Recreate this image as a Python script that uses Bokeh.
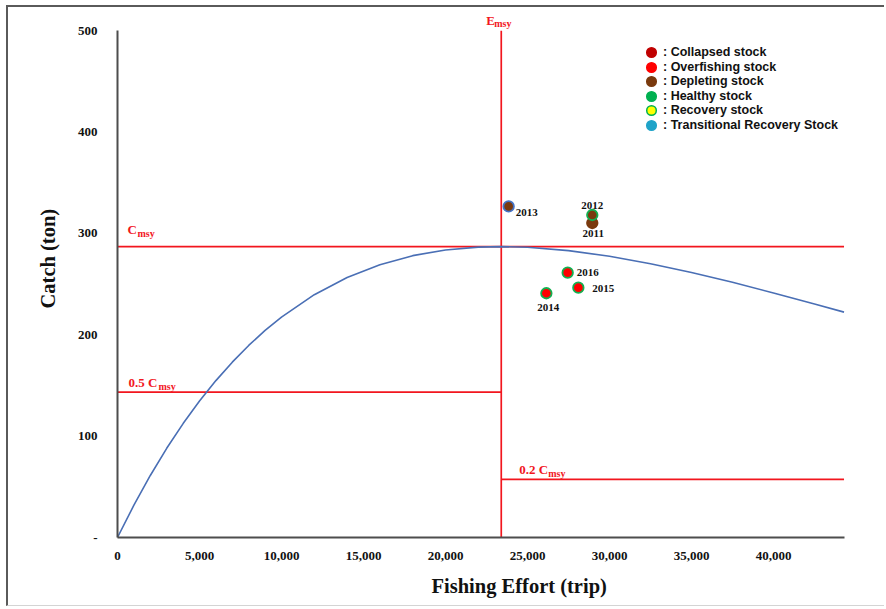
from bokeh.plotting import figure
from bokeh.models import (Range1d, Label, Legend, LegendItem, ColumnDataSource,
                          NumeralTickFormatter, FixedTicker, Title)
from bokeh.core.properties import value
from bokeh.embed import file_html
from bokeh.resources import INLINE

# ---------------- data ----------------
E_MSY = 23400      # trips
C_MSY = 287        # ton

# fitted production curve
curve_effort = [0, 1000, 2000, 3000, 4000, 5000, 6000, 7000, 8000, 9000, 10000,
                12000, 14000, 16000, 18000, 20000, 22000, 23400, 25000, 27500,
                30000, 32500, 35000, 37500, 40000, 42500, 44300]
curve_catch = [0, 31.9, 61.2, 88.0, 112.4, 134.6, 154.8, 173.0, 189.5, 204.3, 217.5,
               239.6, 256.6, 269.2, 278.1, 283.7, 286.5, 287.0, 286.4, 283.1,
               277.5, 270.2, 261.5, 251.8, 241.3, 230.4, 222.4]

years = ["2011", "2012", "2013", "2014", "2015", "2016"]
year_effort = [28950, 28950, 23850, 26150, 28100, 27450]
year_catch = [310.3, 318.2, 326.7, 241.0, 246.5, 261.3]
year_status = ["Depleting", "Depleting", "Depleting", "Overfishing", "Overfishing", "Overfishing"]

legend_labels = [": Collapsed stock", ": Overfishing stock", ": Depleting stock",
                 ": Healthy stock", ": Recovery stock", ": Transitional Recovery Stock"]

y_ticks = [0, 100, 200, 300, 400, 500]
x_ticks = [0, 5000, 10000, 15000, 20000, 25000, 30000, 35000, 40000]

# ---------------- styles ----------------
RED = "#F2161E"
BROWN = "#7A3A0E"
GREEN = "#12B050"
BLUE = "#4472C4"
legend_fill = ["#C00000", "#FF0000", BROWN, "#00B050", "#FFFF00", "#1FA3C8"]
legend_line = ["#C00000", "#FF0000", BROWN, "#00B050", "#00B050", "#1FA3C8"]
legend_row_y = [473, 458, 444, 429, 415, 400]   # screen px from frame bottom
status_fill = {"Depleting": BROWN, "Overfishing": "#FF0000"}
point_line = [BROWN, GREEN, BLUE, GREEN, GREEN, GREEN]
lab_xoff = [1, 0, 7, 2, 14, 9]
lab_yoff = [10, -10, 6, 14, 1, 0]
lab_align = ["center", "center", "left", "center", "left", "left"]

SERIF = "Liberation Serif"
SANS = "Liberation Sans"

p = figure(width=878, height=601, output_backend="svg", toolbar_location=None,
           x_range=Range1d(0, 45000), y_range=Range1d(0, 520),
           min_border_left=109, min_border_right=31, min_border_top=3,
           min_border_bottom=71)
p.styles = {"border-left": "2px solid #5a5a5a", "border-top": "2px solid #5a5a5a",
            "border-bottom": "1px solid #d4d4d4", "margin-left": "6px", "margin-top": "5px"}
p.outline_line_color = None
p.grid.visible = False
p.background_fill_color = "white"

# axes
for ax in (p.xaxis[0], p.yaxis[0]):
    ax.axis_line_color = "#4d4d4d"
    ax.axis_line_width = 2
    ax.major_tick_line_color = None
    ax.minor_tick_line_color = None
    ax.major_label_text_font = SERIF
    ax.major_label_text_font_style = "bold"
    ax.major_label_text_font_size = "13px"
    ax.major_label_text_color = "#111111"
p.xaxis.bounds = (0, 44300)
p.yaxis.bounds = (0, 500)
p.xaxis.ticker = FixedTicker(ticks=x_ticks)
p.yaxis.ticker = FixedTicker(ticks=y_ticks)
p.xaxis.formatter = NumeralTickFormatter(format="0,0")
p.yaxis.major_label_overrides = {0: "-"}
p.xaxis.major_label_standoff = 8
p.yaxis.major_label_standoff = 14

# reference lines
p.segment(x0=[0, 0, E_MSY, E_MSY], y0=[C_MSY, C_MSY * 0.5, C_MSY * 0.2, 0],
          x1=[curve_effort[-1], E_MSY, curve_effort[-1], E_MSY],
          y1=[C_MSY, C_MSY * 0.5, C_MSY * 0.2, 500],
          line_color=RED, line_width=1.7)

# curve
p.line(curve_effort, curve_catch, line_color="#4A6FB5", line_width=1.6)

# yearly points
src = ColumnDataSource(dict(x=year_effort, y=year_catch, year=years,
                            fill=[status_fill[s] for s in year_status], line=point_line,
                            xo=lab_xoff, yo=lab_yoff, al=lab_align))
p.scatter("x", "y", source=src, size=10.5, fill_color="fill", line_color="line",
          line_width=1.8)
p.text("x", "y", text="year", source=src, x_offset="xo", y_offset="yo", text_align="al",
       text_baseline="middle", text_font=value(SERIF), text_font_style="bold",
       text_font_size="11px", text_color="#111111")

# reference labels with subscripts
def ref_label(x, y, main, xo, yo, main_w, sub_drop=4):
    p.add_layout(Label(x=x, y=y, x_offset=xo, y_offset=yo, text=main, text_font=SERIF,
                       text_font_style="bold", text_font_size="13px", text_color=RED,
                       text_baseline="alphabetic"))
    p.add_layout(Label(x=x, y=y, x_offset=xo + main_w, y_offset=yo - sub_drop, text="msy",
                       text_font=SERIF, text_font_style="bold", text_font_size="10px",
                       text_color=RED, text_baseline="alphabetic"))

ref_label(0, C_MSY, "C", 10, 17, 10)
ref_label(0, C_MSY * 0.5, "0.5 C", 11, 10, 30)
ref_label(E_MSY, C_MSY * 0.2, "0.2 C", 18, 10, 29)
ref_label(E_MSY, 500, "E", -15, 10, 8, 3)

# legend: one single-row legend per status so that rows sit close together
for lab, fc, lc, ry in zip(legend_labels, legend_fill, legend_line, legend_row_y):
    r = p.scatter(x=[float("nan")], y=[float("nan")], size=9, fill_color=fc,
                  line_color=lc, line_width=1.5)
    leg = Legend(items=[LegendItem(label=lab, renderers=[r])], location=(522, ry),
                 background_fill_alpha=0, border_line_color=None,
                 label_text_font=SANS, label_text_font_style="bold",
                 label_text_font_size="12.5px", label_text_color="#111111",
                 glyph_width=24, glyph_height=24, label_height=24, spacing=0,
                 label_standoff=0, padding=0, margin=0)
    p.add_layout(leg)

# axis titles
xt = Title(text="Fishing Effort (trip)", align="left", offset=314,
           text_font=SERIF, text_font_style="bold", text_font_size="20.5px",
           text_color="#111111")
yt = Title(text="Catch (ton)", align="left", offset=229,
           text_font=SERIF, text_font_style="bold", text_font_size="20.5px",
           text_color="#111111")
if "standoff" in Title.properties():
    xt.standoff = 21
    yt.standoff = 32
p.add_layout(xt, "below")
p.add_layout(yt, "left")

open("out.html", "w").write(file_html(p, INLINE))
